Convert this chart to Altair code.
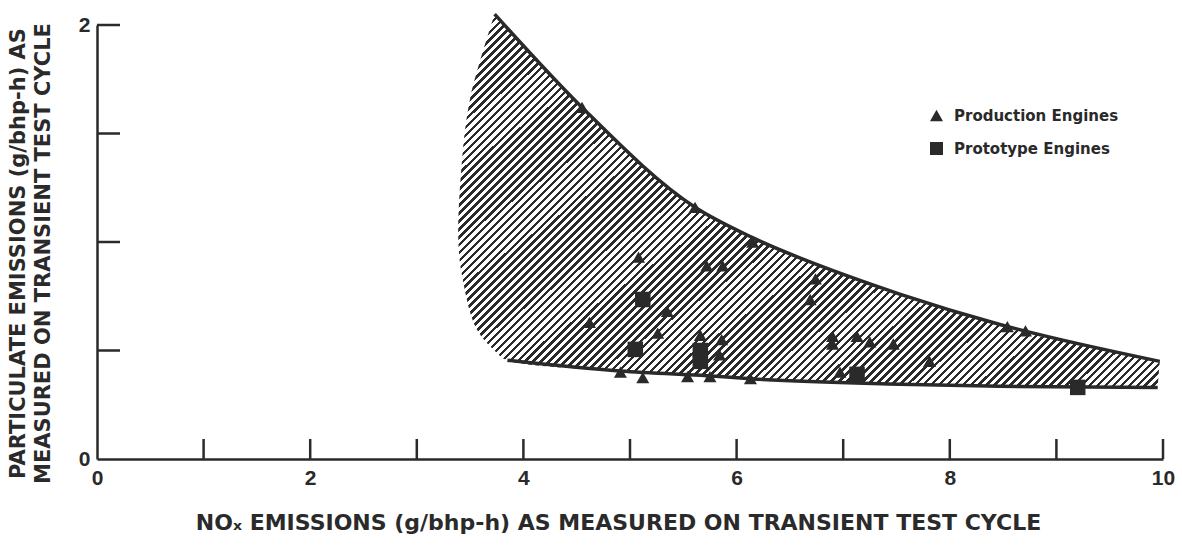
import altair as alt
import pandas as pd

# ---- data ----
prod_x = [4.55, 5.61, 6.15, 5.08, 5.72, 5.87, 6.74, 6.69, 5.35, 4.62, 5.26, 5.66, 5.86, 5.84,
          6.90, 6.90, 7.13, 7.25, 7.47, 7.81, 8.54, 8.71, 4.91, 5.12, 5.54, 5.75, 6.13, 6.97]
prod_y = [1.62, 1.16, 1.00, 0.93, 0.89, 0.89, 0.83, 0.735, 0.68, 0.63, 0.58, 0.57, 0.55, 0.48,
          0.565, 0.53, 0.565, 0.54, 0.53, 0.45, 0.61, 0.59, 0.40, 0.375, 0.38, 0.38, 0.37, 0.40]
proto_x = [5.12, 5.05, 5.66, 5.66, 7.13, 9.20]
proto_y = [0.735, 0.505, 0.50, 0.45, 0.39, 0.33]

upper_x = [3.73, 4.55, 5.61, 6.15, 7.06, 7.53, 8.47, 9.97]
upper_y = [2.05, 1.62, 1.16, 1.02, 0.84, 0.76, 0.62, 0.45]
lower_x = [3.85, 4.91, 5.84, 6.13, 7.53, 8.47, 9.95]
lower_y = [0.455, 0.405, 0.38, 0.37, 0.345, 0.335, 0.33]
left_x = [3.75, 3.56, 3.43, 3.39, 3.42, 3.50]   # bottom -> top
left_y = [0.49, 0.60, 0.83, 1.00, 1.35, 1.66]

x_label_values = [0, 2, 4, 6, 8, 10]
y_label_values = [0, 1, 2]
x_tick_values = [1, 2, 3, 4, 5, 6, 7, 8, 9, 10]
y_tick_values = [0.5, 1, 1.5, 2]

kinds = ["Production Engines", "Prototype Engines"]

# ---- tables ----
prod = pd.DataFrame({"x": prod_x, "y": prod_y, "kind": kinds[0]})
proto = pd.DataFrame({"x": proto_x, "y": proto_y, "kind": kinds[1]})
upper = pd.DataFrame({"x": upper_x, "y": upper_y})
lower = pd.DataFrame({"x": lower_x, "y": lower_y})
# outline of the hatched band: corners repeated so the curve stays sharp there
poly_x = [upper_x[0]] + upper_x + [upper_x[-1], lower_x[-1]] + lower_x[::-1] + left_x + [upper_x[0]]
poly_y = [upper_y[0]] + upper_y + [upper_y[-1], lower_y[-1]] + lower_y[::-1] + left_y + [upper_y[0]]
poly = pd.DataFrame({"x": poly_x, "y": poly_y, "i": list(range(len(poly_x)))})
xt = pd.DataFrame({"x": x_tick_values})
yt = pd.DataFrame({"y": y_tick_values})

# ---- style ----
INK = "#2a2a2a"
FONT = "Liberation Sans"
TFONT = "DejaVu Sans"
W, H = 1066, 434

xscale = alt.Scale(domain=[0, 10], nice=False, zero=False)
yscale = alt.Scale(domain=[0, 2], nice=False, zero=False)
xaxis = alt.Axis(values=x_label_values, ticks=False, grid=False, domainColor=INK, domainWidth=2.5,
                 labelFont=FONT, labelFontWeight="bold", labelFontSize=21, labelColor=INK,
                 labelPadding=8, labelFlush=False, format="d",
                 title="NOₓ EMISSIONS (g/bhp-h) AS MEASURED ON TRANSIENT TEST CYCLE",
                 titleFont=TFONT, titleFontSize=22, titleFontWeight="bold", titleColor=INK,
                 titleBaseline="middle", titleY=63, titleX=521, titleAlign="center")
yaxis = alt.Axis(values=y_label_values, ticks=False, grid=False, domainColor=INK, domainWidth=2.5,
                 labelFont=FONT, labelFontWeight="bold", labelFontSize=21, labelColor=INK,
                 labelPadding=7, labelFlush=False, format="d",
                 title=["PARTICULATE EMISSIONS (g/bhp-h) AS", "MEASURED ON TRANSIENT TEST CYCLE"],
                 titleFont=TFONT, titleFontSize=21, titleFontWeight="bold", titleColor=INK,
                 titleAngle=270, titleAlign="center", titleBaseline="top", titleLineHeight=25,
                 titleX=-90, titleY=228)

def X():
    return alt.X("x:Q", scale=xscale, axis=xaxis)

def Y():
    return alt.Y("y:Q", scale=yscale, axis=yaxis)

# hatch pattern as a striped gradient (style only)
n = 136
stops = []
for k in range(n):
    a, b, c = k / n, (k + 0.45) / n, (k + 1) / n
    stops += [{"offset": a, "color": INK}, {"offset": b, "color": INK},
              {"offset": b, "color": "#ffffff"}, {"offset": c, "color": "#ffffff"}]
hatch = alt.LinearGradient(gradient="linear", stops=stops, x1=0, y1=0, x2=1.2, y2=0.64)

band = alt.Chart(poly).mark_line(fill=hatch, strokeOpacity=0, interpolate="catmull-rom").encode(
    x=X(), y=Y(), order=alt.Order("i:Q"))

up_line = alt.Chart(upper).mark_line(color=INK, strokeWidth=3.5, interpolate="monotone").encode(x=X(), y=Y())
lo_line = alt.Chart(lower).mark_line(color=INK, strokeWidth=3.5, interpolate="monotone").encode(x=X(), y=Y())

legend = alt.Legend(title=None, orient="none", legendX=832, legendY=83, padding=0,
                    labelFont=TFONT, labelFontSize=15, labelFontWeight="bold", labelLimit=400,
                    labelColor=INK, symbolFillColor=INK, symbolStrokeColor=INK,
                    symbolStrokeWidth=0, symbolSize=170, rowPadding=17, labelOffset=10)
shape = alt.Shape("kind:N", scale=alt.Scale(domain=kinds, range=["triangle-up", "square"]), legend=legend)

prod_pts = alt.Chart(prod).mark_point(filled=True, color=INK, opacity=1, size=170).encode(
    x=X(), y=Y(), shape=shape)
proto_pts = alt.Chart(proto).mark_point(filled=True, color=INK, opacity=1, size=240).encode(
    x=X(), y=Y(), shape=shape)

xticks = alt.Chart(xt).mark_rule(color=INK, strokeWidth=2.5).encode(
    x=X(), y=alt.value(H), y2=alt.value(H - 20))
yticks = alt.Chart(yt).mark_rule(color=INK, strokeWidth=2.5).encode(
    y=Y(), x=alt.value(0), x2=alt.value(23))

chart = alt.layer(band, up_line, lo_line, xticks, yticks, prod_pts, proto_pts).properties(
    width=W, height=H,
    autosize=alt.AutoSizeParams(type="none"),
    padding={"left": 97, "top": 25, "right": 19, "bottom": 88},
    background="white",
).configure_view(stroke=None)

chart.save("out.html", embed_options={"renderer": "svg", "actions": False})
